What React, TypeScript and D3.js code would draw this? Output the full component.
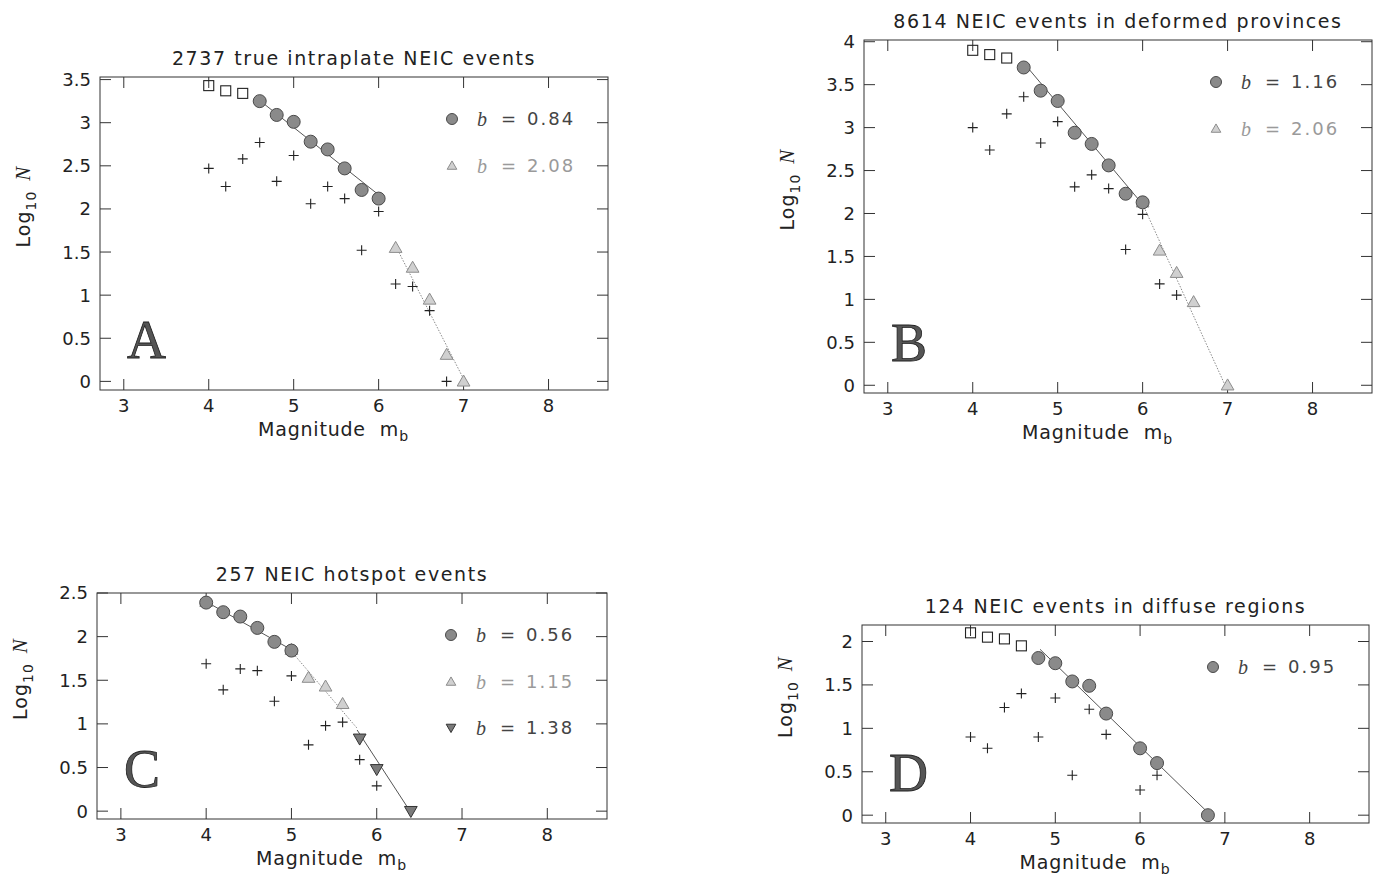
import React from 'react';
import * as d3 from 'd3';

type Pt = [number, number];

const xTicks = [3, 4, 5, 6, 7, 8];
const xDomain: [number, number] = [2.72, 8.7];

// ---------- Panel A ----------
const titleA = '2737 true intraplate NEIC events';
const letterA = 'A';
const squaresA: Pt[] = [[4.0, 3.43], [4.2, 3.37], [4.4, 3.34]];
const circlesA: Pt[] = [[4.6, 3.25], [4.8, 3.09], [5.0, 3.01], [5.2, 2.78], [5.4, 2.69], [5.6, 2.47], [5.8, 2.22], [6.0, 2.12]];
const trianglesA: Pt[] = [[6.2, 1.55], [6.4, 1.32], [6.6, 0.95], [6.8, 0.31], [7.0, 0.0]];
const downTrianglesA: Pt[] = [];
const crossesA: Pt[] = [[4.0, 2.47], [4.2, 2.26], [4.4, 2.58], [4.6, 2.77], [4.8, 2.32], [5.0, 2.62], [5.2, 2.06], [5.4, 2.26], [5.6, 2.12], [5.8, 1.52], [6.0, 1.97], [6.2, 1.13], [6.4, 1.10], [6.6, 0.82], [6.8, 0.0]];
const solidFitsA: Pt[][] = [[[4.61, 3.25], [6.03, 2.14]]];
const dottedFitsA: Pt[][] = [[[6.19, 1.59], [7.03, -0.03]]];
const legendA = [{ marker: 'circle', label: '0.84' }, { marker: 'triangle', label: '2.08' }];
const yMaxTickA = 3.5;

// ---------- Panel B ----------
const titleB = '8614 NEIC events in deformed provinces';
const letterB = 'B';
const squaresB: Pt[] = [[4.0, 3.90], [4.2, 3.85], [4.4, 3.81]];
const circlesB: Pt[] = [[4.6, 3.70], [4.8, 3.43], [5.0, 3.31], [5.2, 2.94], [5.4, 2.81], [5.6, 2.56], [5.8, 2.23], [6.0, 2.13]];
const trianglesB: Pt[] = [[6.0, 2.13], [6.2, 1.57], [6.4, 1.31], [6.6, 0.97], [7.0, 0.0]];
const downTrianglesB: Pt[] = [];
const crossesB: Pt[] = [[4.0, 3.00], [4.2, 2.74], [4.4, 3.16], [4.6, 3.36], [4.8, 2.82], [5.0, 3.07], [5.2, 2.31], [5.4, 2.45], [5.6, 2.29], [5.8, 1.58], [6.0, 1.99], [6.2, 1.18], [6.4, 1.05]];
const solidFitsB: Pt[][] = [[[4.62, 3.73], [5.98, 2.13]]];
const dottedFitsB: Pt[][] = [[[6.0, 2.11], [6.98, -0.02]]];
const legendB = [{ marker: 'circle', label: '1.16' }, { marker: 'triangle', label: '2.06' }];
const yMaxTickB = 4;

// ---------- Panel C ----------
const titleC = '257 NEIC hotspot events';
const letterC = 'C';
const squaresC: Pt[] = [];
const circlesC: Pt[] = [[4.0, 2.39], [4.2, 2.28], [4.4, 2.23], [4.6, 2.10], [4.8, 1.94], [5.0, 1.84]];
const trianglesC: Pt[] = [[4.0, 2.40], [5.0, 1.85], [5.2, 1.53], [5.4, 1.43], [5.6, 1.23]];
const downTrianglesC: Pt[] = [[5.8, 0.83], [6.0, 0.48], [6.4, 0.0]];
const crossesC: Pt[] = [[4.0, 1.69], [4.2, 1.39], [4.4, 1.63], [4.6, 1.61], [4.8, 1.26], [5.0, 1.55], [5.2, 0.76], [5.4, 0.98], [5.6, 1.02], [5.8, 0.59], [6.0, 0.29]];
const solidFitsC: Pt[][] = [[[4.0, 2.40], [5.0, 1.85]], [[5.77, 0.93], [6.39, 0.0]]];
const dottedFitsC: Pt[][] = [[[5.0, 1.83], [5.77, 0.95]]];
const legendC = [{ marker: 'circle', label: '0.56' }, { marker: 'triangle', label: '1.15' }, { marker: 'down', label: '1.38' }];
const yMaxTickC = 2.5;

// ---------- Panel D ----------
const titleD = '124 NEIC events in diffuse regions';
const letterD = 'D';
const squaresD: Pt[] = [[4.0, 2.10], [4.2, 2.05], [4.4, 2.03], [4.6, 1.95]];
const circlesD: Pt[] = [[4.8, 1.81], [5.0, 1.75], [5.2, 1.54], [5.4, 1.49], [5.6, 1.17], [6.0, 0.77], [6.2, 0.60], [6.8, 0.0]];
const trianglesD: Pt[] = [];
const downTrianglesD: Pt[] = [];
const crossesD: Pt[] = [[4.0, 0.90], [4.2, 0.77], [4.4, 1.24], [4.6, 1.40], [4.8, 0.90], [5.0, 1.35], [5.2, 0.46], [5.4, 1.22], [5.6, 0.93], [6.0, 0.29], [6.2, 0.46]];
const solidFitsD: Pt[][] = [[[4.82, 1.91], [6.79, 0.04]]];
const dottedFitsD: Pt[][] = [];
const legendD = [{ marker: 'circle', label: '0.95' }];
const yMaxTickD = 2;

// ---------- layout (positions only) ----------
const layouts = [
  { left: 100, right: 608, top: 77, bottom: 390, yDomain: [-0.1, 3.53] },
  { left: 864, right: 1372, top: 40, bottom: 393, yDomain: [-0.09, 4.02] },
  { left: 97, right: 607, top: 593, bottom: 819, yDomain: [-0.09, 2.5] },
  { left: 862, right: 1369, top: 625, bottom: 823, yDomain: [-0.09, 2.19] },
];

const panels = [
  { title: titleA, letter: letterA, squares: squaresA, circles: circlesA, triangles: trianglesA, downs: downTrianglesA, crosses: crossesA, solid: solidFitsA, dotted: dottedFitsA, legend: legendA, yMax: yMaxTickA },
  { title: titleB, letter: letterB, squares: squaresB, circles: circlesB, triangles: trianglesB, downs: downTrianglesB, crosses: crossesB, solid: solidFitsB, dotted: dottedFitsB, legend: legendB, yMax: yMaxTickB },
  { title: titleC, letter: letterC, squares: squaresC, circles: circlesC, triangles: trianglesC, downs: downTrianglesC, crosses: crossesC, solid: solidFitsC, dotted: dottedFitsC, legend: legendC, yMax: yMaxTickC },
  { title: titleD, letter: letterD, squares: squaresD, circles: circlesD, triangles: trianglesD, downs: downTrianglesD, crosses: crossesD, solid: solidFitsD, dotted: dottedFitsD, legend: legendD, yMax: yMaxTickD },
];

const SANS = '"DejaVu Sans", "Liberation Sans", sans-serif';
const SERIF = '"Liberation Serif", "DejaVu Serif", serif';
const INK = '#222';

const triUp = d3.symbol().type(d3.symbolTriangle).size(70)() as string;
const triUpSmall = d3.symbol().type(d3.symbolTriangle).size(40)() as string;
const crossPath = 'M-5,0H5M0,-5V5';

function Marker({ kind, cx, cy, small }: { kind: string; cx: number; cy: number; small?: boolean }) {
  if (kind === 'circle') {
    return <circle cx={cx} cy={cy} r={small ? 5.5 : 6.5} fill="#8a8a8a" stroke="#4a4a4a" strokeWidth={1} />;
  }
  if (kind === 'triangle') {
    return <path d={small ? triUpSmall : triUp} transform={`translate(${cx},${cy + 1})`} fill="#d0d0d0" stroke="#8c8c8c" strokeWidth={1} />;
  }
  if (kind === 'down') {
    return <path d={small ? triUpSmall : triUp} transform={`translate(${cx},${cy - 1}) rotate(180)`} fill="#7a7a7a" stroke="#333" strokeWidth={1} />;
  }
  if (kind === 'square') {
    return <rect x={cx - 5} y={cy - 5} width={10} height={10} fill="none" stroke={INK} strokeWidth={1.1} />;
  }
  return <path d={crossPath} transform={`translate(${cx},${cy})`} stroke={INK} strokeWidth={1.1} fill="none" />;
}

function Panel({ p, L }: { p: typeof panels[number]; L: typeof layouts[number] }) {
  const x = d3.scaleLinear().domain(xDomain).range([L.left, L.right]);
  const y = d3.scaleLinear().domain(L.yDomain).range([L.bottom, L.top]);
  const yTicks = d3.range(0, p.yMax + 0.001, 0.5);
  const line = d3.line<Pt>().x(d => x(d[0])).y(d => y(d[1]));
  const cx = (L.left + L.right) / 2;
  const cy = (L.top + L.bottom) / 2;
  const tickLen = 11;
  return (
    <g>
      {/* title */}
      <text x={cx} y={L.top - 12} textAnchor="middle" fontFamily={SANS} fontSize={19} letterSpacing={1.6} fill={INK}>{p.title}</text>
      {/* frame */}
      <rect x={L.left} y={L.top} width={L.right - L.left} height={L.bottom - L.top} fill="none" stroke="#333" strokeWidth={1} />
      {/* x ticks */}
      {xTicks.map(t => (
        <g key={'x' + t}>
          <line x1={x(t)} x2={x(t)} y1={L.bottom} y2={L.bottom - tickLen} stroke="#333" />
          <line x1={x(t)} x2={x(t)} y1={L.top} y2={L.top + tickLen} stroke="#333" />
          <text x={x(t)} y={L.bottom + 22} textAnchor="middle" fontFamily={SANS} fontSize={18} fill={INK}>{t}</text>
        </g>
      ))}
      {/* y ticks */}
      {yTicks.map(t => (
        <g key={'y' + t}>
          <line x1={L.left} x2={L.left + tickLen} y1={y(t)} y2={y(t)} stroke="#333" />
          <line x1={L.right} x2={L.right - tickLen} y1={y(t)} y2={y(t)} stroke="#333" />
          <text x={L.left - 9} y={y(t)} dy="0.36em" textAnchor="end" fontFamily={SANS} fontSize={18} fill={INK}>{d3.format('~g')(t)}</text>
        </g>
      ))}
      {/* axis labels */}
      <text x={cx - 96} y={L.bottom + 46} fontFamily={SANS} fontSize={19} letterSpacing={0.8} fill={INK}>
        Magnitude
        <tspan dx={14}>m</tspan>
        <tspan fontSize={14} dy={5}>b</tspan>
      </text>
      <text transform={`translate(${L.left - 70},${cy - 27}) rotate(-90)`} textAnchor="middle" fontFamily={SANS} fontSize={19} letterSpacing={1} fill={INK}>
        Log
        <tspan fontSize={14} dy={6}>10</tspan>
        <tspan dy={-6} dx={10} fontFamily={SERIF} fontStyle="italic" fontSize={21}>N</tspan>
      </text>
      {/* panel letter */}
      <text x={L.left + 27} y={L.bottom - 32} fontFamily={SERIF} fontSize={54} fill="#555" stroke="#222" strokeWidth={0.8}>{p.letter}</text>
      {/* fits */}
      {p.solid.map((s, i) => <path key={'s' + i} d={line(s) as string} fill="none" stroke="#555" strokeWidth={1} />)}
      {p.dotted.map((s, i) => <path key={'d' + i} d={line(s) as string} fill="none" stroke="#8a8a8a" strokeWidth={1} strokeDasharray="1.5,1.5" />)}
      {/* markers */}
      {p.crosses.map((d, i) => <Marker key={'c' + i} kind="cross" cx={x(d[0])} cy={y(d[1])} />)}
      {p.squares.map((d, i) => <Marker key={'q' + i} kind="square" cx={x(d[0])} cy={y(d[1])} />)}
      {p.triangles.map((d, i) => <Marker key={'t' + i} kind="triangle" cx={x(d[0])} cy={y(d[1])} />)}
      {p.circles.map((d, i) => <Marker key={'o' + i} kind="circle" cx={x(d[0])} cy={y(d[1])} />)}
      {p.downs.map((d, i) => <Marker key={'v' + i} kind="down" cx={x(d[0])} cy={y(d[1])} />)}
      {/* legend */}
      {p.legend.map((l, i) => {
        const mx = L.right - 156;
        const my = L.top + 42 + i * 46.5;
        const col = l.marker === 'triangle' ? '#9a9a9a' : '#444';
        return (
          <g key={'l' + i}>
            <Marker kind={l.marker} cx={mx} cy={my} small />
            <text x={mx + 25} y={my} dy="0.36em" fontFamily={SERIF} fontStyle="italic" fontSize={20} fill={col}>b</text>
            <text x={mx + 49} y={my} dy="0.36em" fontFamily={SANS} fontSize={18} fill={col}>=</text>
            <text x={mx + 75} y={my} dy="0.36em" fontFamily={SANS} fontSize={18} letterSpacing={2} fill={col}>{l.label}</text>
          </g>
        );
      })}
    </g>
  );
}

export default function App() {
  return (
    <svg width={1379} height={879} style={{ position: 'absolute', left: 0, top: 0, display: 'block', background: '#fff' }}>
      <rect width={1379} height={879} fill="#fff" />
      {panels.map((p, i) => <Panel key={i} p={p} L={layouts[i]} />)}
    </svg>
  );
}
